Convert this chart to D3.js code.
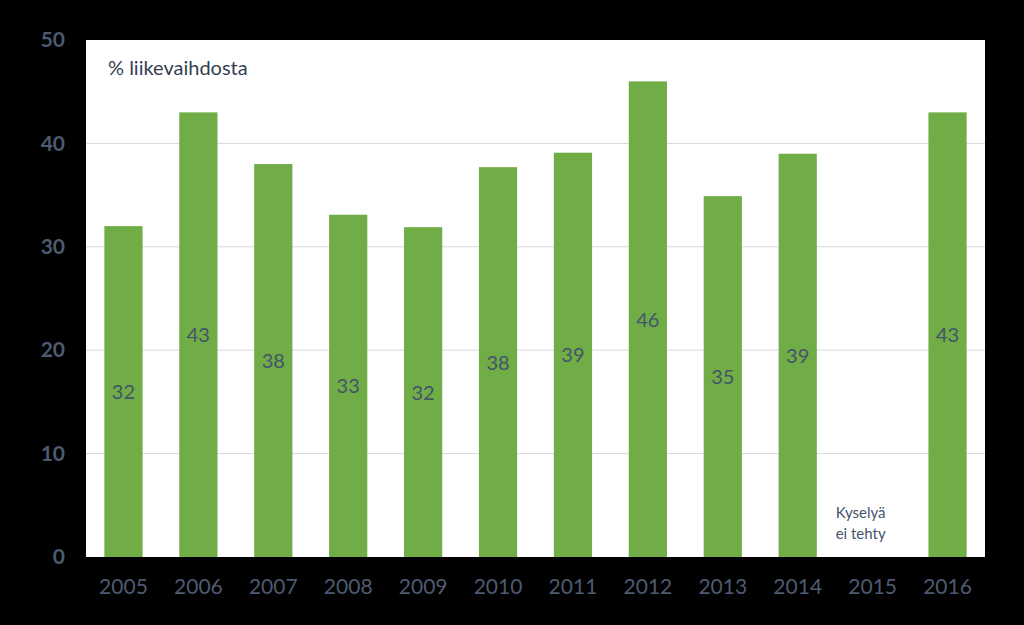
<!DOCTYPE html>
<html>
<head>
<meta charset="utf-8">
<script src="https://cdn.jsdelivr.net/npm/d3@7"></script>
<style>
  body { margin: 0; background: #000; }
  svg { display: block; font-family: Lato, "Open Sans", sans-serif; }
</style>
</head>
<body>
<svg id="chart"></svg>
<script>
var years = ["2005", "2006", "2007", "2008", "2009", "2010", "2011", "2012", "2013", "2014", "2015", "2016"]
var values = [32.0, 43.0, 38.0, 33.1, 31.9, 37.7, 39.1, 46.0, 34.9, 39.0, null, 43.0]
var yTicks = [0, 10, 20, 30, 40, 50]
var noSurveyYear = "2015"
var noSurveyText = ["Kyselyä", "ei tehty"]
var unitLabel = "% liikevaihdosta"

var width = 1024
var height = 625
var margin = { top: 40, right: 39, bottom: 68, left: 86 }
var w = width - margin.left - margin.right
var h = height - margin.top - margin.bottom
var font = "Lato, 'Open Sans', sans-serif"

var svg = d3.select("#chart")
  .attr("width", width)
  .attr("height", height)

svg.append("rect")
  .attr("width", width)
  .attr("height", height)
  .attr("fill", "#000")

var g = svg.append("g")
  .attr("transform", "translate(" + margin.left + "," + margin.top + ")")

g.append("rect")
  .attr("width", w)
  .attr("height", h)
  .attr("fill", "#fff")

var x = d3.scaleBand()
  .domain(years)
  .range([0, w])
  .paddingInner(0.49)
  .paddingOuter(0.245)

var y = d3.scaleLinear()
  .domain([0, 50])
  .range([h, 0])

// gridlines
g.selectAll(".grid")
  .data(yTicks.filter(function(d) { return d > 0 && d < 50 }))
  .enter().append("line")
  .attr("class", "grid")
  .attr("x1", 0)
  .attr("x2", w)
  .attr("y1", function(d) { return y(d) })
  .attr("y2", function(d) { return y(d) })
  .attr("stroke", "#d9d9d9")
  .attr("stroke-width", 1)

var yAxis = g.append("g")
  .call(d3.axisLeft(y).tickValues(yTicks).tickSize(0).tickPadding(21))
yAxis.select(".domain").remove()
yAxis.selectAll("text")
  .attr("fill", "#4d5b70")
  .style("font-family", font)
  .style("font-size", "21px")
  .style("font-weight", "bold")

var xAxis = g.append("g")
  .attr("transform", "translate(0," + h + ")")
  .call(d3.axisBottom(x).tickSize(0).tickPadding(22))
xAxis.select(".domain").remove()
xAxis.selectAll("text")
  .attr("fill", "#4d5b70")
  .style("font-family", font)
  .style("font-size", "21px")

var data = years.map(function(yr, i) { return { year: yr, value: values[i] } })
  .filter(function(d) { return d.value !== null })

g.selectAll(".bar")
  .data(data)
  .enter().append("rect")
  .attr("class", "bar")
  .attr("x", function(d) { return x(d.year) })
  .attr("y", function(d) { return y(d.value) })
  .attr("width", x.bandwidth())
  .attr("height", function(d) { return h - y(d.value) })
  .attr("fill", "#70AD47")

g.selectAll(".bar-label")
  .data(data)
  .enter().append("text")
  .attr("class", "bar-label")
  .attr("x", function(d) { return x(d.year) + x.bandwidth() / 2 })
  .attr("y", function(d) { return (y(d.value) + h) / 2 })
  .attr("dy", "0.38em")
  .attr("text-anchor", "middle")
  .attr("fill", "#44546A")
  .style("font-size", "20px")
  .text(function(d) { return Math.round(d.value) })

g.append("text")
  .attr("x", 22)
  .attr("y", 35)
  .attr("fill", "#333f50")
  .style("font-size", "20px")
  .text(unitLabel)

g.selectAll(".note")
  .data(noSurveyText)
  .enter().append("text")
  .attr("class", "note")
  .attr("x", x(noSurveyYear) + x.bandwidth() / 2 - 12)
  .attr("y", function(d, i) { return y(3.8) + i * 21 })
  .attr("text-anchor", "middle")
  .attr("fill", "#44546A")
  .style("font-size", "15px")
  .text(function(d) { return d })
</script>
</body>
</html>
